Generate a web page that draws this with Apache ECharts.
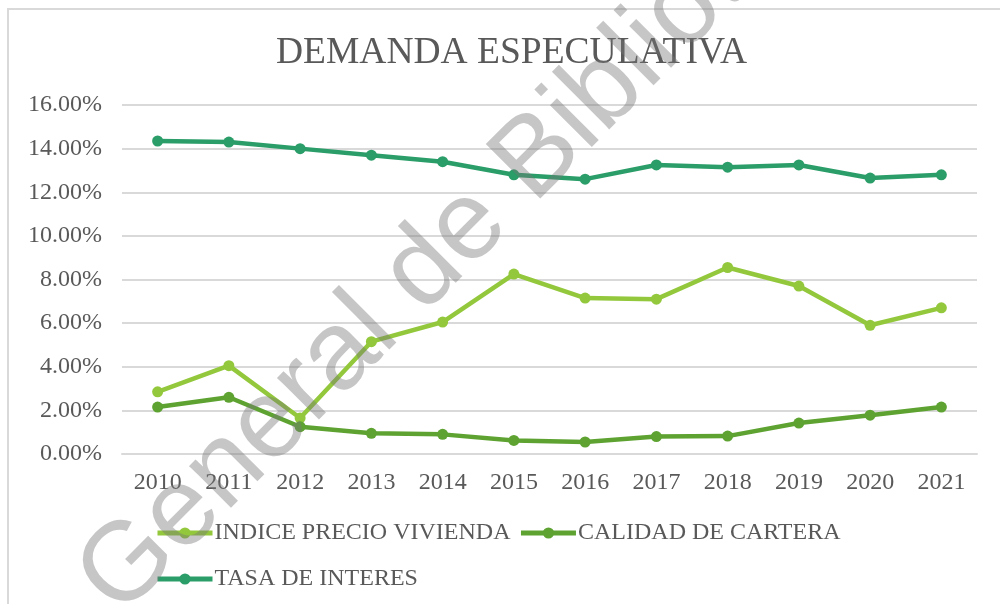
<!DOCTYPE html>
<html>
<head>
<meta charset="utf-8">
<script src="https://cdn.jsdelivr.net/npm/echarts@6/dist/echarts.min.js"></script>
<style>
  html, body { margin: 0; padding: 0; background: #fff; }
  #container { width: 1000px; height: 604px; }
</style>
</head>
<body>
<div id="container"></div>
<script>
var years = ['2010', '2011', '2012', '2013', '2014', '2015', '2016', '2017', '2018', '2019', '2020', '2021'];
var indicePrecio = [2.85, 4.05, 1.65, 5.15, 6.05, 8.25, 7.15, 7.1, 8.55, 7.7, 5.9, 6.7];
var calidadCartera = [2.15, 2.6, 1.25, 0.95, 0.9, 0.62, 0.55, 0.8, 0.82, 1.42, 1.78, 2.15];
var tasaInteres = [14.35, 14.3, 14.0, 13.7, 13.4, 12.8, 12.6, 13.25, 13.15, 13.25, 12.65, 12.8];

var serif = '"Liberation Serif", "Times New Roman", serif';
var gris = '#595959';

window.onload = function () {
    pintar();
};

function serie(nombre, datos, color) {
    return {
        name: nombre,
        type: 'line',
        data: datos,
        symbol: 'circle',
        symbolSize: 11,
        lineStyle: { width: 4.5, color: color },
        itemStyle: { color: color }
    };
}

function leyenda(top, nombres) {
    return {
        left: 150,
        top: top,
        itemWidth: 55,
        itemHeight: 14,
        itemGap: 8,
        lineStyle: { width: 5 },
        textStyle: { fontFamily: serif, fontSize: 24, color: gris, padding: [0, 0, 0, -3] },
        data: nombres
    };
}

function pintar() {
    var dom = document.getElementById('container');
    var myChart = echarts.init(dom, null, { renderer: 'canvas' });
    var option = {
        backgroundColor: '#fff',
        animation: false,
        title: {
            text: 'DEMANDA ESPECULATIVA',
            left: 271,
            top: 29,
            textStyle: { fontFamily: serif, fontSize: 37.5, fontWeight: 'normal', color: gris }
        },
        legend: [
            leyenda(516, ['INDICE PRECIO VIVIENDA', 'CALIDAD DE CARTERA']),
            leyenda(562, ['TASA DE INTERES'])
        ],
        grid: { left: 122, right: 23, top: 105, bottom: 150 },
        xAxis: {
            type: 'category',
            data: years,
            axisLine: { lineStyle: { color: '#d9d9d9', width: 2 } },
            axisTick: { show: false },
            axisLabel: { fontFamily: serif, fontSize: 24, color: gris, margin: 17 }
        },
        yAxis: {
            type: 'value',
            min: 0,
            max: 16,
            interval: 2,
            axisLine: { show: false },
            axisTick: { show: false },
            splitLine: { lineStyle: { color: '#d9d9d9', width: 2 } },
            axisLabel: {
                fontFamily: serif, fontSize: 24, color: gris, margin: 20,
                formatter: function (v) { return v.toFixed(2) + '%'; }
            }
        },
        series: [
            serie('INDICE PRECIO VIVIENDA', indicePrecio, '#93c83c'),
            serie('CALIDAD DE CARTERA', calidadCartera, '#5ea332'),
            serie('TASA DE INTERES', tasaInteres, '#2a9d68')
        ],
        graphic: [{
            type: 'rect',
            shape: { x: 8, y: 9, width: 1010, height: 620 },
            style: { fill: 'none', stroke: '#d9d9d9', lineWidth: 2 },
            z: -1,
            silent: true
        }, {
            // marca de agua
            type: 'text',
            x: 98,
            y: 597,
            rotation: Math.PI / 4,
            style: {
                text: 'General de Biblioteca',
                fontFamily: '"Liberation Sans", Arial, sans-serif',
                fontSize: 112,
                fill: 'rgba(120,120,120,0.42)',
                textAlign: 'left',
                textVerticalAlign: 'middle'
            },
            z: 100,
            silent: true
        }]
    };
    myChart.setOption(option, true);
}
</script>
</body>
</html>
